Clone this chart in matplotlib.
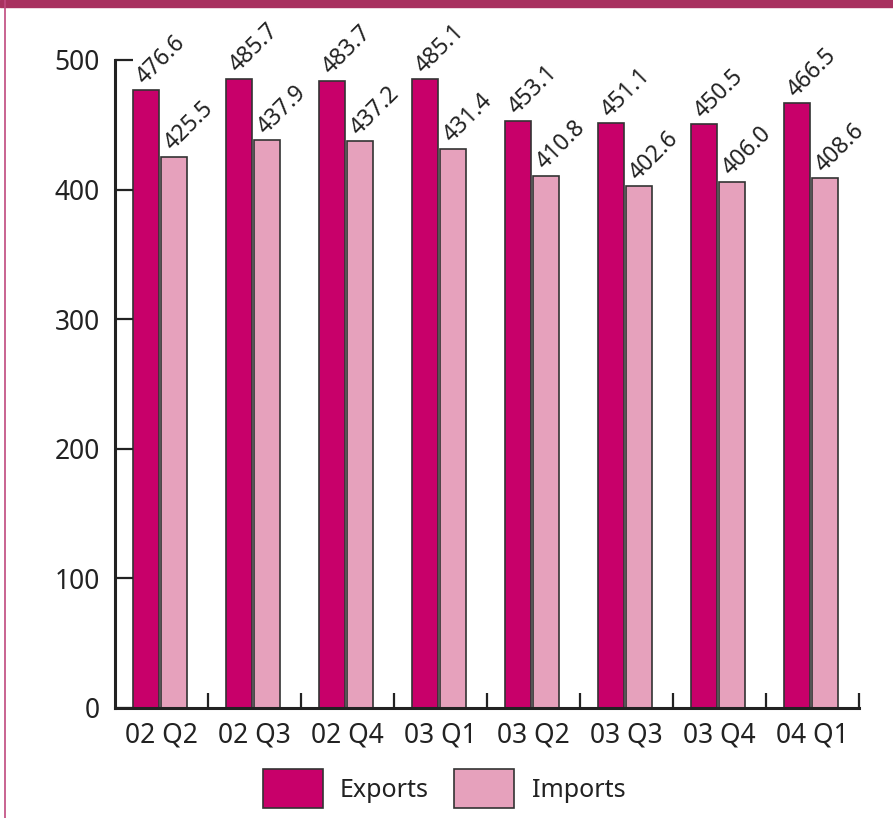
import numpy as np
import matplotlib
matplotlib.use('Agg')
import matplotlib.pyplot as plt
from matplotlib.patches import Rectangle
from matplotlib.lines import Line2D

# quarterly values
quarters = ['02 Q2', '02 Q3', '02 Q4', '03 Q1', '03 Q2', '03 Q3', '03 Q4', '04 Q1']
exports = [476.6, 485.7, 483.7, 485.1, 453.1, 451.1, 450.5, 466.5]
imports = [425.5, 437.9, 437.2, 431.4, 410.8, 402.6, 406.0, 408.6]
export_labels = ['476.6', '485.7', '483.7', '485.1', '453.1', '451.1', '450.5', '466.5']
import_labels = ['425.5', '437.9', '437.2', '431.4', '410.8', '402.6', '406.0', '408.6']

exp_color = '#C8006A'
imp_color = '#E6A1BC'
ink = '#222222'

plt.rcParams['font.family'] = ['Noto Sans', 'DejaVu Sans']

fig = plt.figure(figsize=(8.93, 8.18), dpi=100)
ax = fig.add_axes([115/893, 1 - 708/818, (859 - 115)/893, (708 - 60)/818])

x = np.arange(len(quarters))
w = 0.28
b1 = ax.bar(x - 0.165, exports, w, color=exp_color, edgecolor='#333333', linewidth=1.2, label='Exports')
b2 = ax.bar(x + 0.135, imports, w, color=imp_color, edgecolor='#333333', linewidth=1.2, label='Imports')

# rotated value labels
for rects, labs in [(b1, export_labels), (b2, import_labels)]:
    for r, lab in zip(rects, labs):
        ax.annotate(lab, (r.get_x(), r.get_height()), xytext=(11, 1), textcoords='offset points',
                    rotation=45, rotation_mode='anchor', ha='left', va='bottom',
                    fontsize=16.5, color=ink)

ax.set_xlim(-0.5, len(quarters) - 0.5)
ax.set_ylim(0, 500)
ax.set_yticks([0, 100, 200, 300, 400, 500])
ax.set_xticks(x)
ax.set_xticklabels(quarters)
ax.set_xticks(np.arange(0.5, len(quarters), 1.0), minor=True)

for s in ['top', 'right']:
    ax.spines[s].set_visible(False)
for s in ['left', 'bottom']:
    ax.spines[s].set_linewidth(2.2)
    ax.spines[s].set_color(ink)

ax.tick_params(axis='y', direction='in', length=13, width=1.6, color=ink, labelsize=19,
               labelcolor=ink, pad=11)
ax.tick_params(axis='x', which='major', length=0, labelsize=19, labelcolor=ink, pad=10)
ax.tick_params(axis='x', which='minor', direction='in', length=11, width=1.6, color=ink)

ax.legend(loc='upper center', bbox_to_anchor=(0.442, -0.06), ncol=2, frameon=False,
          fontsize=18, handlelength=2.4, handleheight=2.0, columnspacing=1.0,
          handletextpad=0.7, labelcolor=ink)

# page decoration: top band and left rule
fig.patches.append(Rectangle((0, 1 - 7/818), 1, 7/818, transform=fig.transFigure,
                             color='#A8315F', zorder=0))
fig.lines.append(Line2D([5/893, 5/893], [0, 1], transform=fig.transFigure,
                        color='#C0497E', linewidth=1.2))

fig.savefig('out.png', dpi=100)
